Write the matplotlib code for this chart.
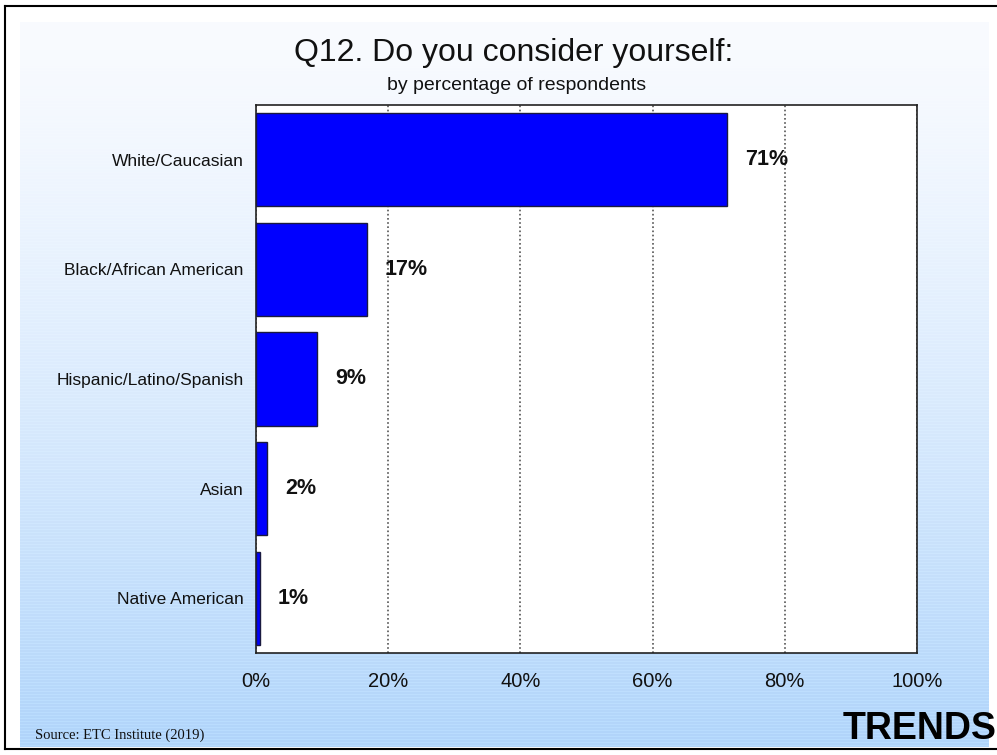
import numpy as np
import matplotlib
matplotlib.use("Agg")
import matplotlib.pyplot as plt
from matplotlib.lines import Line2D

plt.rcParams['font.family'] = ['Liberation Sans', 'DejaVu Sans']

# Survey results
categories = [
    "White/Caucasian",
    "Black/African American",
    "Hispanic/Latino/Spanish",
    "Asian",
    "Native American",
]
percent = [71.2, 16.8, 9.2, 1.7, 0.6]
x_ticks = [0, 20, 40, 60, 80, 100]
x_tick_labels = ["0%", "20%", "40%", "60%", "80%", "100%"]

W, H = 997, 755
fig = plt.figure(figsize=(W / 100, H / 100), dpi=100)
fig.patch.set_facecolor("white")

# slide background: white at the top fading to light blue, with faint banding
bg = fig.add_axes([20 / W, 8 / H, 969 / W, 725 / H], zorder=0)
rows = 725
t = np.linspace(0, 1, rows) ** 1.3
top = np.array([249, 251, 255]) / 255
bottom = np.array([176, 212, 250]) / 255
grad = top[None, :] * (1 - t[:, None]) + bottom[None, :] * t[:, None]
band = np.where(np.arange(rows) % 3 == 0, 1.0, 0.0)[:, None] * 0.03 * t[:, None]
grad = np.clip(grad + band, 0, 1)
bg.imshow(grad[:, None, :], aspect="auto", extent=[0, 1, 0, 1])
bg.set_axis_off()

# outer frame (left, top, bottom)
for xs, ys in [([5 / W, 5 / W], [6 / H, 1 - 6 / H]),
               ([5 / W, 1.0], [1 - 6 / H, 1 - 6 / H]),
               ([5 / W, 1.0], [6 / H, 6 / H])]:
    fig.add_artist(Line2D(xs, ys, color="black", lw=1.5, zorder=1))

ax = fig.add_axes([256 / W, 102 / H, 661 / W, 548 / H], zorder=2)
ax.set_facecolor("white")

y = np.arange(len(categories))
ax.barh(y, percent, height=0.85, color="#0000ff", edgecolor="#1a1a40",
        linewidth=1.0, zorder=3)
for yi, v in zip(y, percent):
    ax.annotate(f"{v:.0f}%", (v, yi), xytext=(13, 0), textcoords="offset points",
                va="center", ha="left", fontsize=15.5, fontweight="bold",
                color="#111111", zorder=4)

ax.set_xlim(0, 100)
ax.set_ylim(len(categories) - 0.5, -0.5)
ax.set_xticks(x_ticks)
ax.set_xticklabels(x_tick_labels, fontsize=14.5, color="#111111")
ax.set_yticks(y)
ax.set_yticklabels(categories, fontsize=12.5, color="#111111")
ax.tick_params(axis="both", length=0)
ax.tick_params(axis="x", pad=14)
ax.tick_params(axis="y", pad=9)
ax.grid(axis="x", linestyle=(0, (1, 1.5)), color="#555555", linewidth=1.2, zorder=1)
for s in ax.spines.values():
    s.set_color("#222222")
    s.set_linewidth(1.2)

fig.text(514 / W, 1 - 53 / H, "Q12. Do you consider yourself:", ha="center",
         va="center", fontsize=23, color="#111111")
fig.text(517 / W, 1 - 86 / H, "by percentage of respondents", ha="center",
         va="center", fontsize=14, color="#111111")
fig.text(35 / W, 1 - 735 / H, "Source: ETC Institute (2019)", ha="left",
         va="center", fontsize=10.5, family="Liberation Serif", color="#111111")
fig.text(843 / W, 1 - 729 / H, "TRENDS", ha="left", va="center",
         fontsize=27, fontweight="bold", color="black", zorder=5)

fig.savefig("out.png", dpi=100)
